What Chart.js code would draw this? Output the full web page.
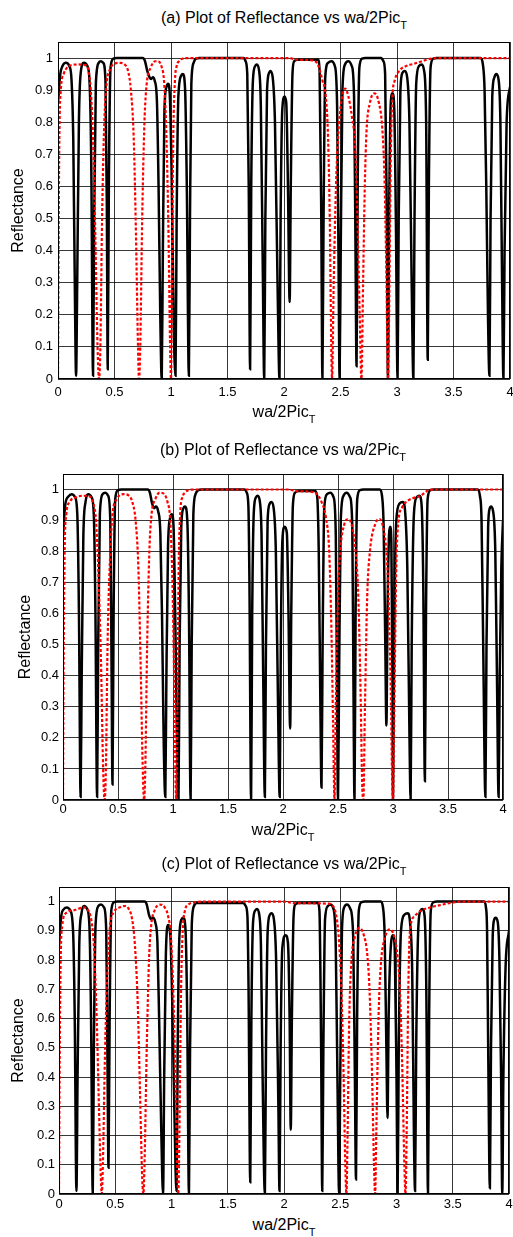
<!DOCTYPE html>
<html>
<head>
<meta charset="utf-8">
<script src="https://cdn.jsdelivr.net/npm/chart.js@4.4.1/dist/chart.umd.min.js"></script>
<style>
body{margin:0;background:#fff;width:513px;height:1237px;position:relative;overflow:hidden;font-family:"Liberation Sans",Arial,sans-serif}
canvas{position:absolute;left:0}
.t{position:absolute;white-space:nowrap;font-size:16px;line-height:16px;color:#000;transform:translateX(-50%)}
.t span{font-size:11px;position:relative;top:6px}
</style>
</head>
<body>
<div class="t" style="left:284px;top:10px">(a) Plot of Reflectance vs wa/2Pic<span>T</span></div>
<canvas id="ca" width="513" height="370" style="top:35px"></canvas>
<div class="t" style="left:284px;top:404px">wa/2Pic<span>T</span></div>

<div class="t" style="left:283px;top:442px">(b) Plot of Reflectance vs wa/2Pic<span>T</span></div>
<canvas id="cb" width="513" height="355" style="top:467px"></canvas>
<div class="t" style="left:283px;top:822px">wa/2Pic<span>T</span></div>

<div class="t" style="left:284px;top:856px">(c) Plot of Reflectance vs wa/2Pic<span>T</span></div>
<canvas id="cc" width="513" height="336" style="top:880px"></canvas>
<div class="t" style="left:284px;top:1217px">wa/2Pic<span>T</span></div>

<script>
// tick positions
const xTicks = [0, 0.5, 1, 1.5, 2, 2.5, 3, 3.5, 4];
const yTicks = [0, 0.1, 0.2, 0.3, 0.4, 0.5, 0.6, 0.7, 0.8, 0.9, 1];

// (a) reflectance, [wa/2PicT, R]
const aBlack = [[0,0.86],[0.02,0.95],[0.04,0.975],[0.07,0.985],[0.10,0.975],[0.12,0.93],[0.135,0.75],[0.15,0.25],[0.16,0.01],[0.17,0.3],[0.185,0.8],[0.20,0.95],[0.23,0.985],[0.26,0.975],[0.28,0.92],[0.295,0.65],[0.31,0.01],[0.32,0.5],[0.335,0.92],[0.36,0.985],[0.38,0.99],[0.40,0.985],[0.42,0.93],[0.432,0.55],[0.44,0.03],[0.45,0.6],[0.465,0.97],[0.49,0.998],[0.52,1],[0.75,1],[0.77,0.99],[0.79,0.96],[0.81,0.94],[0.825,0.935],[0.84,0.94],[0.855,0.93],[0.875,0.87],[0.89,0.6],[0.905,0.2],[0.918,0.0],[0.928,0.4],[0.942,0.84],[0.96,0.91],[0.975,0.92],[0.99,0.88],[1.005,0.65],[1.025,0.15],[1.04,0.01],[1.05,0.5],[1.065,0.88],[1.09,0.945],[1.105,0.95],[1.125,0.9],[1.14,0.6],[1.158,0.01],[1.168,0.5],[1.18,0.92],[1.20,0.985],[1.22,0.998],[1.25,1],[1.645,1],[1.66,0.99],[1.675,0.95],[1.688,0.6],[1.70,0.03],[1.71,0.6],[1.725,0.93],[1.745,0.975],[1.76,0.98],[1.78,0.96],[1.795,0.85],[1.812,0.35],[1.825,0.0],[1.835,0.5],[1.85,0.9],[1.87,0.955],[1.88,0.96],[1.90,0.94],[1.92,0.8],[1.945,0.25],[1.96,0.0],[1.97,0.5],[1.985,0.84],[2.005,0.88],[2.02,0.86],[2.035,0.6],[2.05,0.24],[2.06,0.6],[2.075,0.95],[2.09,0.99],[2.12,0.995],[2.30,0.995],[2.315,0.96],[2.33,0.5],[2.34,0.0],[2.35,0.5],[2.365,0.94],[2.39,0.985],[2.42,0.99],[2.45,0.975],[2.47,0.85],[2.483,0.35],[2.492,0.0],[2.502,0.4],[2.517,0.9],[2.54,0.98],[2.57,0.99],[2.60,0.975],[2.62,0.88],[2.633,0.4],[2.642,0.04],[2.652,0.6],[2.667,0.97],[2.69,0.998],[2.72,1],[2.86,1],[2.88,0.99],[2.895,0.95],[2.91,0.5],[2.92,0.0],[2.93,0.5],[2.945,0.86],[2.96,0.89],[2.975,0.85],[2.99,0.5],[3.005,0.0],[3.015,0.5],[3.03,0.9],[3.05,0.955],[3.07,0.96],[3.09,0.94],[3.11,0.8],[3.13,0.3],[3.145,0.0],[3.155,0.5],[3.17,0.92],[3.195,0.975],[3.22,0.98],[3.24,0.96],[3.258,0.8],[3.272,0.06],[3.282,0.6],[3.297,0.97],[3.32,0.998],[3.35,1],[3.74,1],[3.76,0.98],[3.775,0.9],[3.79,0.6],[3.805,0.2],[3.818,0.01],[3.828,0.5],[3.843,0.88],[3.862,0.94],[3.88,0.95],[3.90,0.93],[3.915,0.8],[3.93,0.3],[3.942,0.0],[3.952,0.4],[3.97,0.8],[4,0.91]];
const aRed = [[0,0],[0.005,0.4],[0.012,0.75],[0.025,0.9],[0.05,0.95],[0.08,0.97],[0.12,0.978],[0.18,0.98],[0.24,0.978],[0.27,0.96],[0.29,0.9],[0.31,0.75],[0.33,0.45],[0.35,0.1],[0.363,0],[0.375,0.1],[0.39,0.5],[0.41,0.8],[0.43,0.92],[0.46,0.965],[0.50,0.982],[0.55,0.985],[0.59,0.98],[0.62,0.96],[0.645,0.9],[0.67,0.75],[0.69,0.45],[0.708,0.1],[0.717,0],[0.728,0.1],[0.745,0.5],[0.765,0.8],[0.785,0.92],[0.82,0.97],[0.86,0.99],[0.88,0.99],[0.915,0.975],[0.94,0.92],[0.96,0.75],[0.978,0.45],[0.993,0.08],[1.0,0],[1.008,0.3],[1.02,0.75],[1.035,0.93],[1.05,0.975],[1.07,0.99],[1.1,0.998],[1.15,1],[2.05,1],[2.1,0.995],[2.25,0.993],[2.29,0.985],[2.31,0.97],[2.34,0.93],[2.37,0.88],[2.39,0.75],[2.405,0.5],[2.415,0.2],[2.425,0],[2.44,0.3],[2.46,0.6],[2.48,0.76],[2.51,0.87],[2.54,0.905],[2.57,0.88],[2.60,0.82],[2.63,0.72],[2.65,0.5],[2.67,0.2],[2.685,0],[2.70,0.3],[2.715,0.6],[2.73,0.77],[2.76,0.86],[2.80,0.89],[2.84,0.86],[2.87,0.78],[2.89,0.62],[2.905,0.35],[2.92,0],[2.93,0.2],[2.945,0.7],[2.96,0.88],[2.98,0.93],[3.02,0.96],[3.08,0.975],[3.15,0.982],[3.22,0.99],[3.3,0.998],[3.4,1],[4,1]];

// (b)
const bBlack = [[0,0.85],[0.02,0.95],[0.05,0.978],[0.08,0.985],[0.11,0.975],[0.13,0.92],[0.145,0.6],[0.16,0.01],[0.17,0.4],[0.185,0.85],[0.205,0.96],[0.23,0.985],[0.26,0.975],[0.28,0.92],[0.295,0.6],[0.31,0.01],[0.32,0.5],[0.335,0.92],[0.36,0.985],[0.385,0.99],[0.41,0.98],[0.43,0.9],[0.44,0.5],[0.45,0.05],[0.46,0.6],[0.475,0.97],[0.50,0.998],[0.53,1],[0.77,1],[0.79,0.99],[0.81,0.955],[0.83,0.94],[0.845,0.945],[0.865,0.93],[0.885,0.86],[0.90,0.6],[0.915,0.2],[0.93,0.01],[0.94,0.4],[0.955,0.82],[0.975,0.91],[0.99,0.92],[1.005,0.88],[1.02,0.6],[1.04,0.1],[1.05,0.0],[1.06,0.5],[1.075,0.88],[1.095,0.94],[1.11,0.945],[1.13,0.9],[1.145,0.6],[1.16,0.0],[1.17,0.5],[1.185,0.92],[1.205,0.985],[1.23,0.998],[1.26,1],[1.65,1],[1.67,0.99],[1.685,0.95],[1.695,0.7],[1.71,0.0],[1.72,0.6],[1.735,0.93],[1.755,0.975],[1.77,0.98],[1.79,0.96],[1.805,0.85],[1.82,0.4],[1.835,0.01],[1.845,0.5],[1.86,0.9],[1.88,0.955],[1.895,0.96],[1.915,0.94],[1.935,0.8],[1.955,0.3],[1.97,0.01],[1.98,0.5],[1.995,0.84],[2.015,0.88],[2.035,0.86],[2.05,0.6],[2.065,0.23],[2.075,0.6],[2.09,0.95],[2.11,0.99],[2.14,0.995],[2.29,0.995],[2.31,0.98],[2.325,0.8],[2.34,0.3],[2.35,0.04],[2.36,0.5],[2.375,0.94],[2.40,0.985],[2.43,0.99],[2.46,0.975],[2.48,0.85],[2.49,0.4],[2.50,0.0],[2.51,0.4],[2.525,0.9],[2.55,0.98],[2.58,0.99],[2.61,0.975],[2.63,0.88],[2.64,0.4],[2.65,0.0],[2.66,0.6],[2.675,0.97],[2.70,0.998],[2.73,1],[2.88,1],[2.90,0.98],[2.915,0.88],[2.93,0.5],[2.94,0.24],[2.95,0.6],[2.965,0.86],[2.975,0.88],[2.985,0.83],[2.995,0.4],[3.00,0.0],[3.01,0.5],[3.03,0.9],[3.06,0.955],[3.09,0.96],[3.11,0.93],[3.13,0.75],[3.15,0.2],[3.16,0.0],[3.17,0.5],[3.19,0.92],[3.215,0.975],[3.24,0.98],[3.26,0.95],[3.275,0.7],[3.29,0.06],[3.30,0.6],[3.315,0.97],[3.34,0.998],[3.37,1],[3.77,1],[3.79,0.98],[3.805,0.9],[3.82,0.5],[3.84,0.01],[3.85,0.5],[3.865,0.88],[3.88,0.94],[3.89,0.945],[3.91,0.93],[3.93,0.8],[3.945,0.4],[3.96,0.01],[3.97,0.4],[3.985,0.75],[4,0.9]];
const bRed = [[0,0],[0.005,0.4],[0.015,0.8],[0.03,0.92],[0.06,0.96],[0.12,0.975],[0.18,0.98],[0.24,0.978],[0.28,0.95],[0.30,0.9],[0.32,0.75],[0.345,0.45],[0.365,0.1],[0.378,0],[0.39,0.1],[0.405,0.5],[0.43,0.8],[0.45,0.92],[0.49,0.97],[0.55,0.985],[0.60,0.98],[0.63,0.96],[0.66,0.9],[0.685,0.75],[0.705,0.45],[0.725,0.1],[0.737,0],[0.748,0.1],[0.765,0.5],[0.785,0.8],[0.805,0.92],[0.84,0.97],[0.88,0.99],[0.92,0.985],[0.95,0.96],[0.975,0.9],[0.995,0.7],[1.01,0.4],[1.024,0.05],[1.03,0],[1.04,0.3],[1.052,0.75],[1.067,0.93],[1.085,0.975],[1.11,0.99],[1.14,0.998],[1.2,1],[2.05,1],[2.12,0.995],[2.25,0.993],[2.31,0.985],[2.35,0.96],[2.39,0.91],[2.42,0.8],[2.44,0.55],[2.455,0.25],[2.468,0],[2.48,0.3],[2.50,0.65],[2.52,0.8],[2.555,0.885],[2.59,0.905],[2.625,0.885],[2.66,0.8],[2.685,0.65],[2.705,0.35],[2.72,0.05],[2.73,0],[2.745,0.3],[2.765,0.65],[2.79,0.8],[2.84,0.89],[2.88,0.905],[2.915,0.87],[2.94,0.8],[2.96,0.65],[2.98,0.35],[2.993,0.05],[3.0,0],[3.012,0.3],[3.03,0.75],[3.05,0.9],[3.08,0.94],[3.12,0.96],[3.18,0.972],[3.25,0.98],[3.29,0.99],[3.32,0.998],[3.4,1],[4,1]];

// (c)
const cBlack = [[0,0.85],[0.02,0.95],[0.045,0.975],[0.07,0.98],[0.10,0.97],[0.125,0.9],[0.14,0.6],[0.155,0.01],[0.165,0.4],[0.18,0.85],[0.20,0.96],[0.225,0.985],[0.25,0.975],[0.27,0.92],[0.285,0.6],[0.30,0.0],[0.31,0.5],[0.325,0.92],[0.35,0.985],[0.375,0.99],[0.40,0.98],[0.42,0.9],[0.43,0.5],[0.44,0.09],[0.45,0.6],[0.465,0.97],[0.49,0.998],[0.52,1],[0.76,1],[0.78,0.99],[0.80,0.955],[0.82,0.94],[0.835,0.945],[0.855,0.93],[0.875,0.86],[0.89,0.6],[0.91,0.2],[0.925,0.0],[0.935,0.4],[0.95,0.82],[0.97,0.92],[0.99,0.88],[1.01,0.6],[1.035,0.1],[1.045,0.01],[1.055,0.5],[1.07,0.88],[1.09,0.94],[1.105,0.945],[1.125,0.9],[1.14,0.6],[1.155,0.0],[1.165,0.5],[1.18,0.92],[1.20,0.985],[1.225,0.995],[1.26,0.995],[1.64,0.995],[1.66,0.985],[1.675,0.95],[1.685,0.7],[1.70,0.04],[1.71,0.6],[1.725,0.93],[1.745,0.97],[1.76,0.975],[1.78,0.955],[1.795,0.85],[1.81,0.4],[1.83,0.0],[1.84,0.5],[1.855,0.9],[1.875,0.955],[1.89,0.96],[1.91,0.94],[1.93,0.8],[1.95,0.3],[1.96,0.01],[1.97,0.5],[1.985,0.84],[2.015,0.885],[2.035,0.86],[2.05,0.6],[2.06,0.22],[2.07,0.6],[2.085,0.95],[2.10,0.99],[2.13,0.995],[2.30,0.995],[2.315,0.97],[2.33,0.5],[2.34,0.01],[2.35,0.5],[2.365,0.94],[2.39,0.985],[2.41,0.99],[2.44,0.975],[2.46,0.85],[2.475,0.4],[2.49,0.0],[2.50,0.4],[2.515,0.9],[2.535,0.98],[2.56,0.99],[2.59,0.975],[2.615,0.88],[2.63,0.4],[2.64,0.05],[2.65,0.6],[2.665,0.97],[2.69,0.998],[2.72,1],[2.86,1],[2.88,0.98],[2.895,0.88],[2.91,0.5],[2.92,0.26],[2.93,0.6],[2.955,0.87],[2.97,0.885],[2.985,0.83],[3.0,0.4],[3.01,0.0],[3.02,0.5],[3.04,0.9],[3.07,0.955],[3.10,0.96],[3.12,0.93],[3.14,0.75],[3.155,0.2],[3.165,0.01],[3.175,0.5],[3.195,0.92],[3.215,0.97],[3.23,0.975],[3.25,0.95],[3.265,0.7],[3.28,0.0],[3.29,0.6],[3.305,0.97],[3.33,0.998],[3.36,1],[3.78,1],[3.795,0.98],[3.805,0.9],[3.815,0.5],[3.83,0.02],[3.84,0.5],[3.855,0.88],[3.87,0.94],[3.88,0.945],[3.90,0.93],[3.915,0.8],[3.93,0.4],[3.94,0.0],[3.95,0.4],[3.97,0.78],[4,0.9]];
const cRed = [[0,0],[0.005,0.4],[0.015,0.8],[0.03,0.92],[0.06,0.96],[0.13,0.97],[0.22,0.98],[0.26,0.97],[0.29,0.93],[0.31,0.85],[0.335,0.6],[0.355,0.3],[0.37,0.08],[0.38,0],[0.39,0.1],[0.41,0.5],[0.435,0.8],[0.455,0.92],[0.49,0.965],[0.55,0.982],[0.59,0.985],[0.62,0.975],[0.65,0.94],[0.675,0.85],[0.70,0.65],[0.72,0.35],[0.74,0.05],[0.75,0],[0.76,0.1],[0.78,0.5],[0.80,0.8],[0.82,0.92],[0.85,0.97],[0.90,0.99],[0.94,0.98],[0.97,0.95],[0.995,0.88],[1.015,0.7],[1.035,0.4],[1.05,0.1],[1.06,0],[1.07,0.2],[1.085,0.7],[1.10,0.9],[1.12,0.97],[1.15,0.99],[1.2,0.997],[1.3,1],[2.0,1],[2.1,0.995],[2.4,0.993],[2.42,0.99],[2.45,0.975],[2.47,0.94],[2.49,0.86],[2.51,0.7],[2.53,0.4],[2.545,0.1],[2.555,0],[2.565,0.2],[2.58,0.6],[2.60,0.8],[2.63,0.88],[2.67,0.91],[2.71,0.885],[2.74,0.82],[2.76,0.7],[2.78,0.45],[2.80,0.1],[2.81,0],[2.82,0.2],[2.84,0.6],[2.86,0.78],[2.90,0.88],[2.94,0.905],[2.98,0.88],[3.01,0.81],[3.03,0.7],[3.05,0.45],[3.07,0.1],[3.08,0],[3.09,0.2],[3.105,0.7],[3.12,0.9],[3.16,0.95],[3.22,0.97],[3.3,0.98],[3.41,0.99],[3.5,0.997],[3.57,1],[4,1]];

const frame = {
  id: 'frame',
  afterDraw(chart) {
    const a = chart.chartArea, ctx = chart.ctx;
    ctx.save();
    ctx.strokeStyle = '#000';
    ctx.lineWidth = 1;
    ctx.strokeRect(Math.round(a.left) + 0.5, Math.round(a.top) + 0.5,
      Math.round(a.right - a.left) - 1, Math.round(a.bottom - a.top) - 1);
    ctx.restore();
  }
};

function pts(arr) { return arr.map(p => ({x: p[0], y: p[1]})); }

function makeChart(id, black, red, box) {
  new Chart(document.getElementById(id), {
    type: 'line',
    data: {
      datasets: [
        { data: pts(red), borderColor: '#ff0000', borderWidth: 2.2, borderDash: [3, 2],
          pointRadius: 0, cubicInterpolationMode: 'monotone', order: 0 },
        { data: pts(black), borderColor: '#000', borderWidth: 2.5,
          pointRadius: 0, cubicInterpolationMode: 'monotone', order: 1 }
      ]
    },
    options: {
      responsive: false, animation: false, devicePixelRatio: 1,
      layout: { padding: { left: 0, right: box.right, top: box.top, bottom: 0 } },
      plugins: { legend: { display: false }, tooltip: { enabled: false } },
      scales: {
        x: {
          type: 'linear', min: 0, max: 4,
          afterBuildTicks: s => { s.ticks = xTicks.map(v => ({value: v})); },
          afterFit: s => { s.height = box.xh; s.paddingLeft = 0; s.paddingRight = 0; },
          border: { display: false },
          grid: { color: 'rgba(0,0,0,0.78)', lineWidth: 1, drawTicks: false },
          ticks: { color: '#000', padding: box.xpad, maxRotation: 0, autoSkip: false,
            font: { family: '"Liberation Sans", Arial, sans-serif', size: 13 },
            callback: v => String(+v.toFixed(2)) }
        },
        y: {
          min: 0, max: 1.05,
          afterBuildTicks: s => { s.ticks = yTicks.map(v => ({value: v})); },
          afterFit: s => { s.width = box.left; s.paddingTop = 0; s.paddingBottom = 0; },
          border: { display: false },
          grid: { color: 'rgba(0,0,0,0.78)', lineWidth: 1, drawTicks: false },
          ticks: { color: '#000', padding: box.ypad, autoSkip: false,
            font: { family: '"Liberation Sans", Arial, sans-serif', size: 13 },
            callback: v => String(+v.toFixed(2)) },
          title: { display: true, text: 'Reflectance', color: '#000',
            padding: { top: box.tpad, bottom: 0 },
            font: { family: '"Liberation Sans", Arial, sans-serif', size: 16 } }
        }
      }
    },
    plugins: [frame]
  });
}

makeChart('ca', aBlack, aRed, { left: 58, right: 3, top: 7, xh: 26, xpad: 6, ypad: 5, tpad: 9 });
makeChart('cb', bBlack, bRed, { left: 63, right: 10, top: 7, xh: 22, xpad: 2, ypad: 4, tpad: 16 });
makeChart('cc', cBlack, cRed, { left: 59, right: 4, top: 7, xh: 22, xpad: 3, ypad: 4, tpad: 9 });
</script>
</body>
</html>
